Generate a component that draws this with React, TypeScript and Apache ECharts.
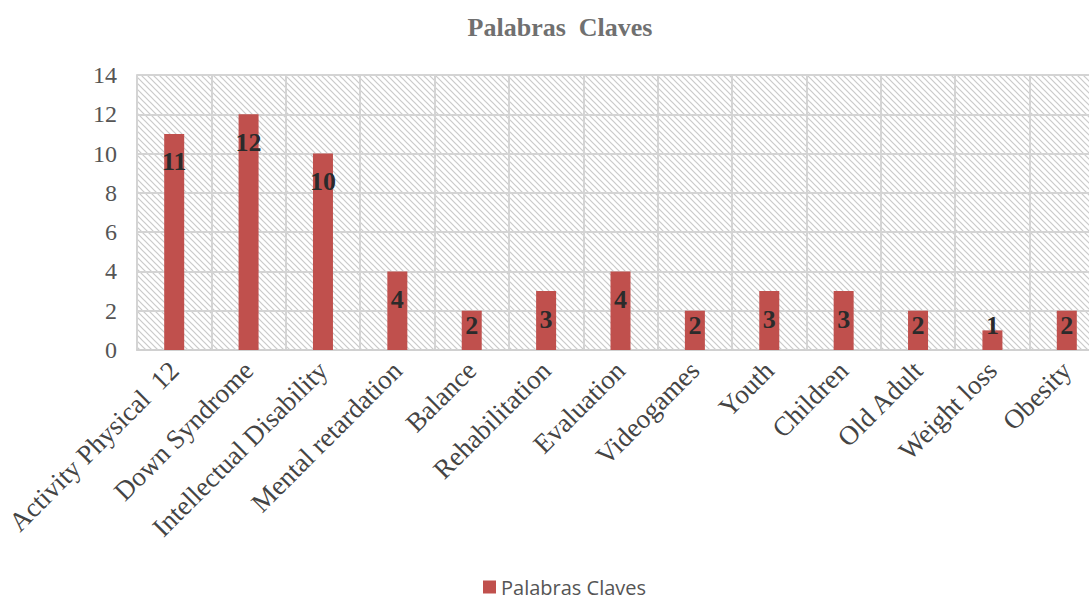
import React, { useEffect, useRef } from "react";
import * as echarts from "echarts";

const categories = [
  "Activity Physical  12",
  "Down Syndrome",
  "Intellectual Disability",
  "Mental retardation",
  "Balance",
  "Rehabilitation",
  "Evaluation",
  "Videogames",
  "Youth",
  "Children",
  "Old Adult",
  "Weight loss",
  "Obesity",
];
const values = [11, 12, 10, 4, 2, 3, 4, 2, 3, 3, 2, 1, 2];
const yTicks = [0, 2, 4, 6, 8, 10, 12, 14];
const seriesName = "Palabras Claves";
const titleText = "Palabras  Claves";

const GRID_TOP = 75;
const GRID_HEIGHT = 275;
const Y_MAX = 14;

function hatchUrl() {
  const svg =
    '<svg xmlns="http://www.w3.org/2000/svg" width="6" height="6">' +
    '<rect width="6" height="6" fill="#ffffff"/>' +
    '<path d="M-1,-1 L7,7 M-1,5 L1,7 M5,-1 L7,1" stroke="#cacaca" stroke-width="1.2"/>' +
    "</svg>";
  return "data:image/svg+xml;charset=utf-8," + encodeURIComponent(svg);
}

export default function App() {
  const ref = useRef<HTMLDivElement>(null);
  useEffect(() => {
    if (!ref.current) return;
    const chart = echarts.init(ref.current, undefined, { renderer: "svg" });
    const pxPerUnit = GRID_HEIGHT / Y_MAX;
    const data = values.map((v) => {
      const h = v * pxPerUnit;
      const off = Math.min(28, h - 25);
      return {
        value: v,
        label: {
          position: ["50%", off] as any,
          align: "center",
          verticalAlign: "middle",
        },
      };
    });
    chart.setOption({
      animation: false,
      backgroundColor: "#ffffff",
      title: {
        text: titleText,
        left: 555,
        textAlign: "center",
        top: 9,
        textStyle: {
          fontFamily: "Liberation Serif",
          fontWeight: "bold",
          fontSize: 26,
          color: "#707070",
        },
      },
      legend: {
        bottom: 1,
        padding: 0,
        left: 483,
        data: [seriesName],
        itemWidth: 13,
        itemHeight: 13,
        icon: "rect",
        itemGap: 8,
        textStyle: {
          fontFamily: "Open Sans",
          fontSize: 20,
          lineHeight: 22,
          color: "#555555",
        },
      },
      grid: {
        left: 137,
        top: GRID_TOP,
        height: GRID_HEIGHT,
        right: 16,
        containLabel: false,
        outerBoundsMode: "none",
        show: true,
        borderWidth: 0,
        backgroundColor: {
          image: hatchUrl(),
          repeat: "repeat",
          imageWidth: 6,
          imageHeight: 6,
        } as any,
      } as any,
      xAxis: {
        type: "category",
        data: categories,
        axisLine: { show: true, lineStyle: { color: "#d0d0d0", width: 2 } },
        axisTick: { show: false },
        splitLine: {
          show: true,
          interval: 0,
          lineStyle: { color: "#d4d4d4", width: 2 },
        },
        axisLabel: {
          interval: 0,
          rotate: 45,
          margin: 16,
          fontFamily: "Liberation Serif",
          fontSize: 27,
          color: "#444444",
        },
      },
      yAxis: {
        type: "value",
        min: 0,
        max: Y_MAX,
        interval: 2,
        axisLine: { show: true, lineStyle: { color: "#d4d4d4", width: 2 } },
        axisTick: { show: false },
        splitLine: { show: true, lineStyle: { color: "#d4d4d4", width: 2 } },
        axisLabel: {
          margin: 20,
          fontFamily: "Liberation Serif",
          fontSize: 24,
          color: "#555555",
          formatter: (v: number) => (yTicks.includes(v) ? String(v) : ""),
        },
      },
      series: [
        {
          name: seriesName,
          type: "bar",
          data,
          barWidth: 20,
          itemStyle: { color: "#C0504D" },
          label: {
            show: true,
            fontFamily: "Liberation Serif",
            fontWeight: "bold",
            fontSize: 26,
            color: "#2b2b2b",
          },
        },
      ],
    });
    return () => chart.dispose();
  }, []);
  return (
    <div
      style={{
        position: "fixed",
        left: 0,
        top: 0,
        width: 1089,
        height: 599,
        overflow: "hidden",
      }}
    >
      <div ref={ref} style={{ width: 1120, height: 599 }} />
    </div>
  );
}
